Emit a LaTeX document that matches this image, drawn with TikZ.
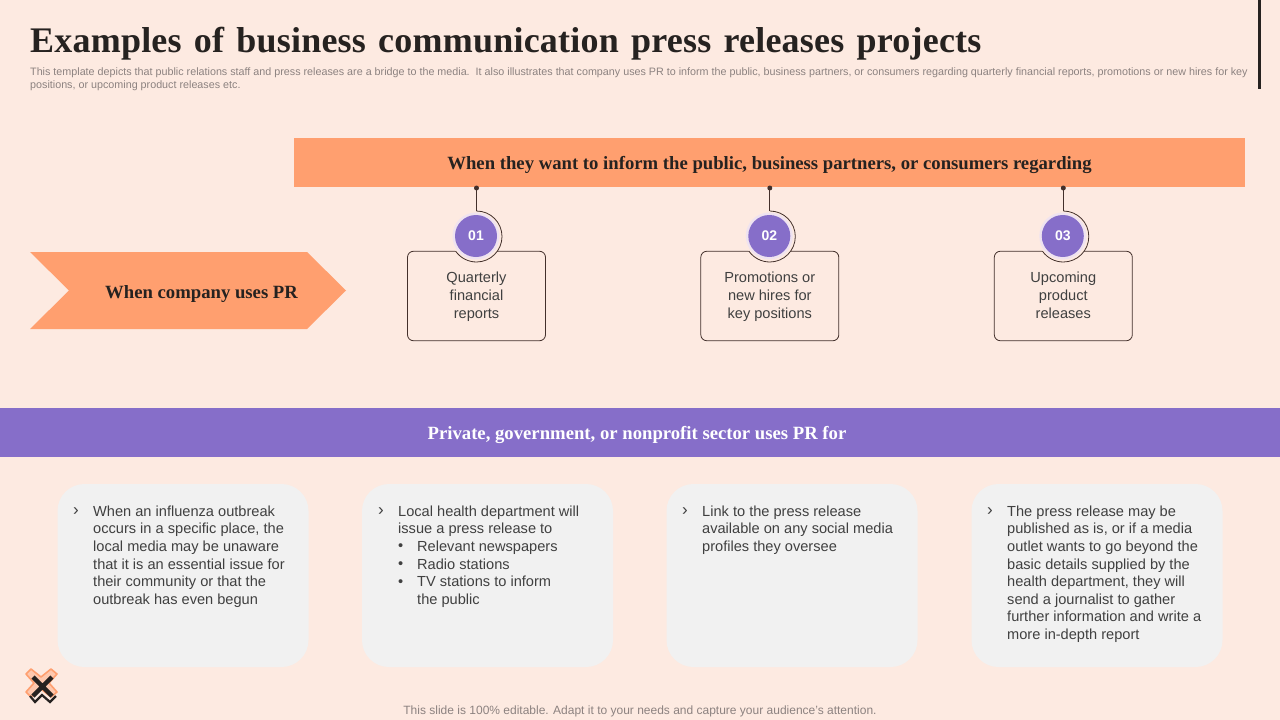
\documentclass[tikz,border=0pt]{standalone}
\usepackage{fontspec}
\setmainfont{Liberation Sans}
\newfontfamily\serifb{Liberation Serif}
\newfontfamily\titlef[WordSpace=1.33,LetterSpace=0.6]{Liberation Serif}
\definecolor{bgc}{HTML}{FDEAE1}
\definecolor{orangec}{HTML}{FF9F6F}
\definecolor{purplec}{HTML}{866EC9}
\definecolor{darkc}{HTML}{262220}
\definecolor{linec}{HTML}{43302B}
\definecolor{bodyc}{HTML}{404040}
\definecolor{subc}{HTML}{8C8280}
\definecolor{cardc}{HTML}{F1F1F1}
\definecolor{haloc}{HTML}{EFE3F0}
\tikzset{
 x=1pt,y=-1pt,
 itembox/.style={draw=linec,line width=.8pt,rounded corners=6pt,minimum width=138pt,minimum height=89.5pt,inner sep=0pt},
 numdot/.style={circle,fill=purplec,minimum size=42pt,inner sep=0pt,text=white,font=\fontsize{14}{14}\selectfont\bfseries},
 halo/.style={circle,fill=haloc,minimum size=47pt,inner sep=0pt},
 pin/.style={circle,fill=linec,minimum size=5pt,inner sep=0pt},
 conn/.style={draw=linec,line width=.8pt},
 itemtext/.style={anchor=north,align=center,text=bodyc,font=\fontsize{14.6}{17.6}\selectfont,inner sep=0pt},
 card/.style={fill=cardc,rounded corners=27pt,minimum width=251pt,minimum height=183pt,inner sep=0pt},
 cardtext/.style={anchor=north west,align=left,text=bodyc,font=\fontsize{14.6}{17.6}\selectfont,inner sep=0pt},
 chev/.style={anchor=north west,align=left,text=bodyc,font=\fontsize{17}{17.6}\selectfont,inner sep=0pt},
 bannertext/.style={font=\fontsize{18.7}{20}\selectfont\serifb\bfseries,inner sep=0pt},
}
\begin{document}
\begin{tikzpicture}
\useasboundingbox (0,0) rectangle (1280,720);
\fill[bgc] (0,0) rectangle (1280,720);
\fill[darkc] (1258,0) rectangle (1261,89);
\node[anchor=west,inner sep=0pt,text=darkc,font=\fontsize{36}{40}\selectfont\titlef\bfseries] (title) at (30,44) {Examples of business communication press releases projects};
\node[anchor=north west,align=left,inner sep=0pt,text=subc,font=\fontsize{10.75}{13}\selectfont] (sub) at (30,67.5) {This template depicts that public relations staff and press releases are a bridge to the media.\ \ It also illustrates that company uses PR to inform the public, business partners, or consumers regarding quarterly financial reports, promotions or new hires for key\\positions, or upcoming product releases etc.};
\node[fill=orangec,minimum width=951pt,minimum height=49pt,inner sep=0pt,anchor=north west] (top) at (294,138) {};
\node[bannertext,text=darkc] (toptext) at (769.5,165) {When they want to inform the public, business partners, or consumers regarding};
\fill[orangec] (30,252) -- (307,252) -- (346,290.5) -- (307,329) -- (30,329) -- (69,290.5) -- cycle;
\node[bannertext,text=darkc,anchor=west] (pr) at (105,294) {When company uses PR};
% items
\foreach \n/\cx/\num/\txt in {a/476.5/01/{Quarterly\\financial\\reports},b/769.8/02/{Promotions or\\new hires for\\key positions},c/1063.3/03/{Upcoming\\product\\releases}}{
 \node[itembox] (box\n) at (\cx,296) {};
 \node[itemtext] (txt\n) at (\cx,272.2) {\txt};
 \node[circle,fill=bgc,minimum size=51pt,inner sep=0pt] (mask\n) at (\cx,236.5) {};
 \node[halo] (halo\n) at (\cx-.5,236) {};
 \node[numdot] (num\n) at (\cx-.5,236) {\num};
 \node[pin] (pin\n) at (\cx,188) {};
 \coordinate (arc\n) at (\cx,211);
 \draw[conn] (pin\n.center) -- (arc\n);
 \draw[conn] (arc\n) arc[start angle=-90,end angle=145,radius=25.5];
}
\fill[purplec] (0,408) rectangle (1280,457);
\node[bannertext,text=white] (purple) at (637,435) {Private, government, or nonprofit sector uses PR for};
\foreach \n/\x in {a/183,b/487.5,c/792,d/1097}{
 \node[card] (card\n) at (\x,575.5) {};
}
\node[chev] (ta) at (73,504) {\vphantom{W}›};
\node[cardtext] (tb) at (93,505.5) {When an influenza outbreak\\occurs in a specific place, the\\local media may be unaware\\that it is an essential issue for\\their community or that the\\outbreak has even begun};
\node[chev] (tc) at (378,504) {\vphantom{W}›};
\node[cardtext] (td) at (398,505.5) {Local health department will\\issue a press release to};
\node[cardtext] (te) at (398,540.7) {\vphantom{W}•};
\node[cardtext] (tf) at (417,540.7) {Relevant newspapers\\Radio stations\\TV stations to inform\\the public};
\node[cardtext] (te2) at (398,558.3) {\vphantom{W}•};
\node[cardtext] (te3) at (398,575.9) {\vphantom{W}•};
\node[chev] (tg) at (682,504) {\vphantom{W}›};
\node[cardtext] (th) at (702,505.5) {Link to the press release\\available on any social media\\profiles they oversee};
\node[chev] (ti) at (987,504) {\vphantom{W}›};
\node[cardtext] (tj) at (1007,505.5) {The press release may be\\published as is, or if a media\\outlet wants to go beyond the\\basic details supplied by the\\health department, they will\\send a journalist to gather\\further information and write a\\more in-depth report};
\node[inner sep=0pt,text=subc,font=\fontsize{12}{14}\selectfont] (foot) at (640,711) {This slide is 100\% editable. Adapt it to your needs and capture your audience's attention.};
% logo
\draw[orangec,line width=1.6pt,fill=orangec!45!bgc,line join=round] (26,674) -- (31,669) -- (41,677) -- (51,669) -- (57,674) -- (49,683) -- (57,692) -- (51,697) -- (41,689) -- (31,697) -- (26,692) -- (34,683) -- cycle;
\draw[darkc,line width=4.5pt] (33,677) -- (52,696) (52,677) -- (33,696);
\draw[darkc,line width=2.2pt] (30,696) -- (35,702) -- (42,695) -- (50,702) -- (56,696);
\end{tikzpicture}
\end{document}
